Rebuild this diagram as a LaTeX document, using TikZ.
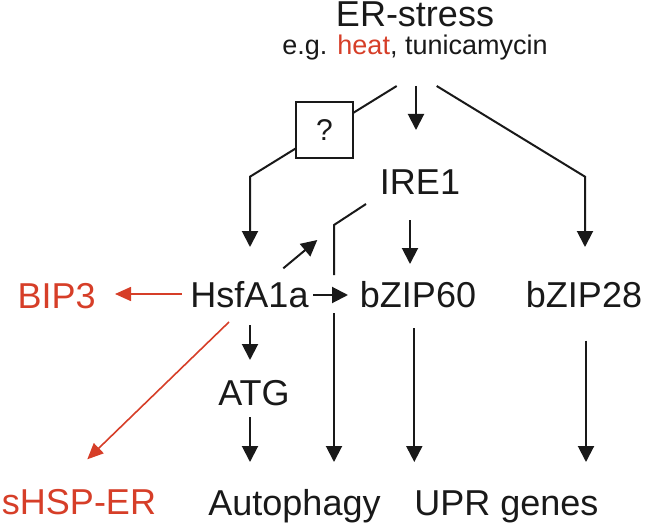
\documentclass[tikz,border=0pt]{standalone}
\usepackage{fontspec}
\setmainfont{Liberation Sans}
\usetikzlibrary{arrows.meta}
\definecolor{ink}{RGB}{25,25,25}
\definecolor{hot}{RGB}{214,62,40}
\tikzset{
  lbl/.style={anchor=base, inner sep=0pt, text=ink, font=\fontsize{36}{40}\selectfont},
  redlbl/.style={lbl, text=hot},
  arr/.style={draw=ink, line width=2pt, -{Triangle[length=16pt,width=16pt]}},
  ln/.style={draw=ink, line width=2pt},
  redarr/.style={draw=hot, line width=1.6pt, -{Triangle[length=16pt,width=14pt]}},
  qbox/.style={draw=ink, line width=1.6pt, fill=white, minimum width=57pt, minimum height=56pt, inner sep=0pt, font=\fontsize{30}{34}\selectfont, text=ink}
}
\begin{document}
\begin{tikzpicture}[x=1pt,y=-1pt]
\useasboundingbox (0,0) rectangle (645,524);
% nodes
\node[lbl] (er) at (415,27) {ER-stress};
\node[lbl, font=\fontsize{27}{30}\selectfont] (eg) at (415,55) {e.g. \textcolor{hot}{heat}, tunicamycin};
\node[lbl] (ire) at (420,194) {IRE1};
\node[lbl] (hsf) at (249.5,307) {HsfA1a};
\node[redlbl] (bip) at (56.7,308) {BIP3};
\node[lbl] (bz60) at (418,307) {bZIP60};
\node[lbl] (bz28) at (584,307) {bZIP28};
\node[lbl] (atg) at (254,405) {ATG};
\node[redlbl] (shsp) at (79,514) {sHSP-ER};
\node[lbl] (auto) at (294.5,515) {Autophagy};
\node[lbl] (upr) at (506.5,515) {UPR genes};
% connector end points
\coordinate (e1) at (396.7,86);
\coordinate (e2) at (416,86);
\coordinate (e3) at (436.7,86);
\coordinate (k1) at (250,176.7);
\coordinate (k1t) at (250,247);
\coordinate (k3) at (585,176.7);
\coordinate (k3t) at (585,247);
\coordinate (ireT) at (416,130);
\coordinate (i1) at (366,204);
\coordinate (i2) at (334,225);
\coordinate (i3) at (334,275);
\coordinate (i4) at (334,313);
\coordinate (i5) at (334,462);
\coordinate (b1) at (410,220);
\coordinate (b2) at (410,264);
\coordinate (d1) at (283.3,268.3);
\coordinate (d2) at (317.3,240);
\coordinate (h1) at (313,295);
\coordinate (h2) at (348,295);
\coordinate (r1) at (181.7,294);
\coordinate (r2) at (115,294);
\coordinate (s1) at (229,322);
\coordinate (s2) at (87.3,459.3);
\coordinate (a1) at (250,325);
\coordinate (a2) at (250,360);
\coordinate (a3) at (250,417);
\coordinate (a4) at (250,462);
\coordinate (u1) at (414.3,328);
\coordinate (u2) at (414.3,462);
\coordinate (z1) at (586,340.7);
\coordinate (z2) at (586,462);
% connectors
\draw[arr] (e1) -- (k1) -- (k1t);
\node[qbox] (q) at (324.5,130) {?};
\draw[arr] (e2) -- (ireT);
\draw[arr] (e3) -- (k3) -- (k3t);
\draw[ln] (i1) -- (i2) -- (i3);
\draw[arr] (i4) -- (i5);
\draw[arr] (b1) -- (b2);
\draw[arr] (d1) -- (d2);
\draw[arr] (h1) -- (h2);
\draw[redarr] (r1) -- (r2);
\draw[redarr] (s1) -- (s2);
\draw[arr] (a1) -- (a2);
\draw[arr] (a3) -- (a4);
\draw[arr] (u1) -- (u2);
\draw[arr] (z1) -- (z2);
\end{tikzpicture}
\end{document}
